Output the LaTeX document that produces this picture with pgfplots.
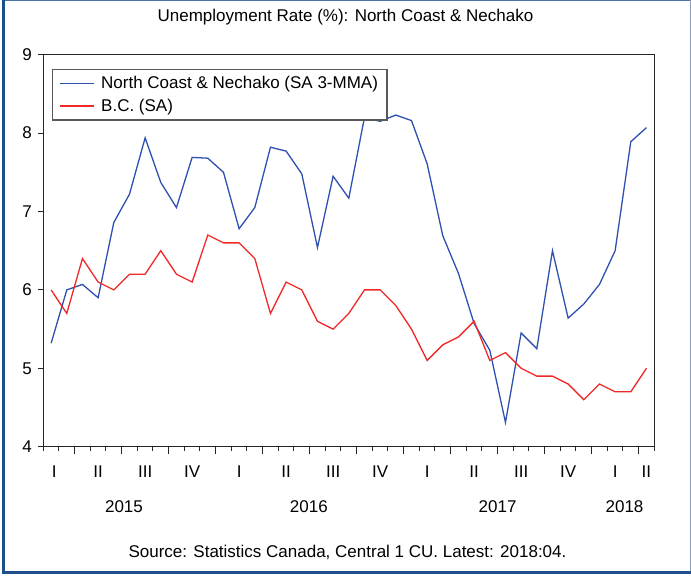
\documentclass[border=0pt]{standalone}
\usepackage{pgfplots}
\pgfplotsset{compat=1.18}
\usepackage{fontspec}
\setmainfont{Liberation Sans}
\definecolor{nblue}{RGB}{48,80,176}
\definecolor{bcred}{RGB}{240,40,40}
\definecolor{frameblue}{RGB}{31,78,140}
\definecolor{framelight}{RGB}{140,155,185}
\newcommand{\cf}{\fontsize{17}{20}\selectfont}
\begin{document}
\begin{tikzpicture}
\path[use as bounding box] (0pt,0pt) rectangle (691pt,579pt);
\begin{axis}[
  at={(43.3pt,132.3pt)}, anchor=south west,
  scale only axis, width=611pt, height=392pt,
  xmin=-0.5, xmax=38.5, ymin=4, ymax=9,
  ytick=\empty,
  extra y ticks={4,5,6,7,8,9},
  extra y tick style={major tick length=5.5pt},
  xtick={1.5,4.5,7.5,10.5,13.5,16.5,19.5,22.5,25.5,28.5,31.5,34.5,37.5},
  xticklabels={},
  major tick length=7.5pt,
  extra x ticks={0.2,3,6,9,12,15,18,21,24,27,30,33,36,38},
  extra x tick labels={I,II,III,IV,I,II,III,IV,I,II,III,IV,I,II},
  extra x tick style={major tick length=0pt},
  minor xtick={-0.5,0.5,...,38.5},
  minor tick length=4.5pt,
  tick align=outside,
  xtick pos=bottom, ytick pos=left,
  axis line style={line width=1.2pt, black!85},
  tick style={line width=1pt, black!85},
  /pgf/number format/assume math mode=true,
  tick label style={font=\cf},
  xticklabel style={yshift=-16pt},
  yticklabel style={xshift=-2.5pt},
  clip=false,
  legend cell align=left,
  legend image code/.code={\draw[#1, line width=1.3pt] (0pt,0pt) -- (34pt,0pt);},
  legend style={at={(rel axis cs:0,1)}, anchor=north west, xshift=9pt, yshift=-14pt,
    draw=black!65, line width=1.2pt, fill=white, font=\cf,
    inner xsep=6pt, inner ysep=5pt, row sep=5pt, column sep=4pt,
    nodes={inner xsep=3pt, inner ysep=2pt}},
]
\addplot[nblue, line width=1.3pt] coordinates {
(0,5.32) (1,6.00) (2,6.07) (3,5.90) (4,6.86) (5,7.22) (6,7.94) (7,7.37) (8,7.05) (9,7.69)
(10,7.68) (11,7.50) (12,6.78) (13,7.05) (14,7.82) (15,7.77) (16,7.48) (17,6.54) (18,7.45) (19,7.17)
(20,8.20) (21,8.15) (22,8.23) (23,8.16) (24,7.61) (25,6.69) (26,6.21) (27,5.57) (28,5.23) (29,4.31)
(30,5.45) (31,5.25) (32,6.50) (33,5.64) (34,5.82) (35,6.07) (36,6.50) (37,7.89) (38,8.07)
};
\addlegendentry{North Coast \& Nechako (SA 3-MMA)}
\addplot[bcred, line width=1.3pt] coordinates {
(0,6.0) (1,5.7) (2,6.4) (3,6.1) (4,6.0) (5,6.2) (6,6.2) (7,6.5) (8,6.2) (9,6.1)
(10,6.7) (11,6.6) (12,6.6) (13,6.4) (14,5.7) (15,6.1) (16,6.0) (17,5.6) (18,5.5) (19,5.7)
(20,6.0) (21,6.0) (22,5.8) (23,5.5) (24,5.1) (25,5.3) (26,5.4) (27,5.6) (28,5.1) (29,5.2)
(30,5.0) (31,4.9) (32,4.9) (33,4.8) (34,4.6) (35,4.8) (36,4.7) (37,4.7) (38,5.0)
};
\addlegendentry{B.C. (SA)}
\node[font=\cf] at (axis cs:4.65,4) [yshift=-60pt] {2015};
\node[font=\cf] at (axis cs:16.45,4) [yshift=-60pt] {2016};
\node[font=\cf] at (axis cs:28.5,4) [yshift=-60pt] {2017};
\node[font=\cf] at (axis cs:36.6,4) [yshift=-60pt] {2018};
\end{axis}
\node[font=\cf] at (345.5pt,562pt) {Unemployment Rate (\%): North Coast \& Nechako};
\node[font=\cf] at (347.5pt,27pt) {Source: Statistics Canada, Central 1 CU. Latest: 2018:04.};
\draw[line width=1.5pt, frameblue!80] (2pt,578.25pt) -- (691pt,578.25pt);
\draw[line width=1pt, framelight] (690pt,7pt) -- (690pt,579pt);
\draw[line width=3pt, frameblue] (3.5pt,5.5pt) -- (3.5pt,579pt);
\draw[line width=3pt, frameblue] (2pt,7pt) -- (691pt,7pt);
\end{tikzpicture}
\end{document}
